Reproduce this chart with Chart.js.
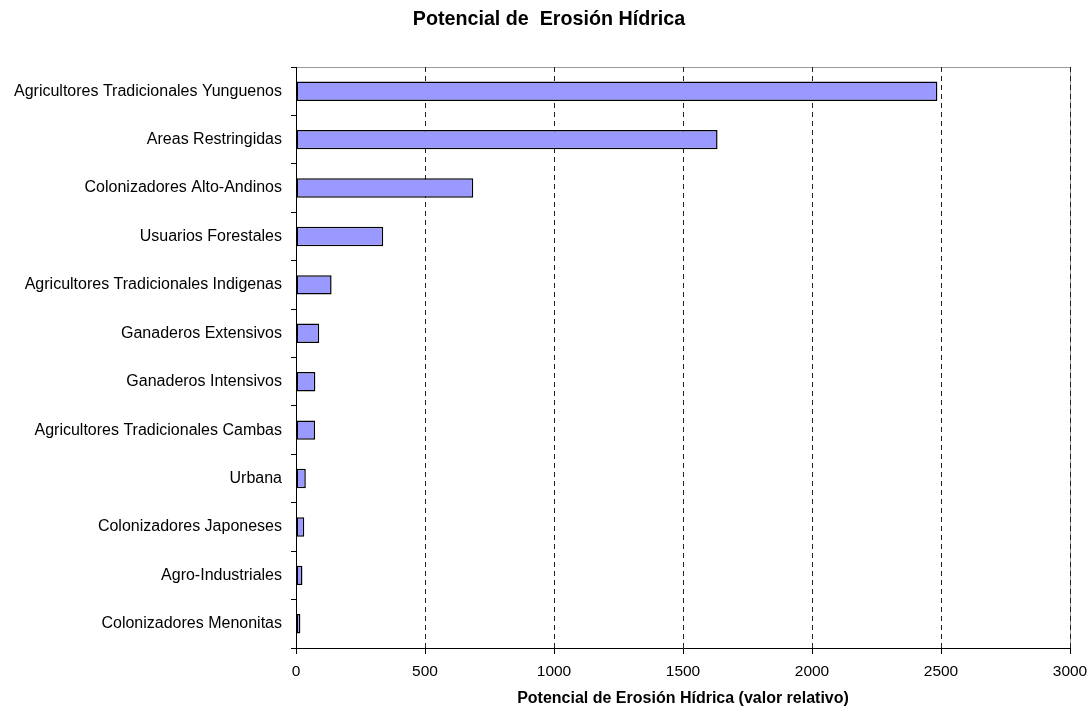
<!DOCTYPE html>
<html lang="es">
<head>
<meta charset="utf-8">
<title>Potencial de Erosión Hídrica</title>
<script src="https://cdn.jsdelivr.net/npm/chart.js@4/dist/chart.umd.min.js"></script>
<style>
  html, body { margin: 0; padding: 0; background: #ffffff; }
  #wrap { width: 1091px; height: 709px; }
</style>
</head>
<body>
<div id="wrap"><canvas id="chart" width="1091" height="709"></canvas></div>
<script>
// Actores / usos del suelo
const categories = [
  'Agricultores Tradicionales Yunguenos',
  'Areas Restringidas',
  'Colonizadores Alto-Andinos',
  'Usuarios Forestales',
  'Agricultores Tradicionales Indigenas',
  'Ganaderos Extensivos',
  'Ganaderos Intensivos',
  'Agricultores Tradicionales Cambas',
  'Urbana',
  'Colonizadores Japoneses',
  'Agro-Industriales',
  'Colonizadores Menonitas'
];

// Potencial de erosión hídrica (valor relativo)
const erosionValues = [2486, 1634, 687, 338, 138, 90, 75, 74, 38, 32, 25, 17];

// Escala del eje horizontal
const xTicks = [0, 500, 1000, 1500, 2000, 2500, 3000];

const chartTitle = 'Potencial de  Erosión Hídrica';

const FONT = "'Liberation Sans', Arial, Helvetica, sans-serif";

// Fondo blanco, marco gris del área de trazado y título centrado sobre el gráfico
const framePlugin = {
  id: 'frame',
  beforeDraw(chart) {
    const { ctx, chartArea: a } = chart;
    ctx.save();
    ctx.fillStyle = '#ffffff';
    ctx.fillRect(0, 0, chart.width, chart.height);
    ctx.strokeStyle = '#9a9a9a';
    ctx.lineWidth = 1;
    ctx.beginPath();
    ctx.moveTo(a.left, Math.round(a.top) + 0.5);
    ctx.lineTo(Math.round(a.right) + 0.5, Math.round(a.top) + 0.5);
    ctx.lineTo(Math.round(a.right) + 0.5, a.bottom);
    ctx.stroke();

    ctx.fillStyle = '#000000';
    ctx.font = 'bold 19.7px ' + FONT;
    ctx.textAlign = 'center';
    ctx.textBaseline = 'middle';
    ctx.fillText(chartTitle, 549, 20);
    ctx.restore();
  }
};

new Chart(document.getElementById('chart'), {
  type: 'bar',
  data: {
    labels: categories,
    datasets: [{
      label: 'Potencial de Erosión Hídrica',
      data: erosionValues,
      backgroundColor: '#9999ff',
      borderColor: '#000000',
      borderWidth: 1.5,
      borderSkipped: false,
      barPercentage: 0.4,
      categoryPercentage: 1.0
    }]
  },
  options: {
    indexAxis: 'y',
    responsive: false,
    animation: false,
    devicePixelRatio: 1,
    layout: { padding: { left: 0, right: 21, top: 67, bottom: 0 } },
    plugins: {
      legend: { display: false },
      tooltip: { enabled: false },
      title: { display: false }
    },
    scales: {
      x: {
        type: 'linear',
        min: xTicks[0],
        max: xTicks[xTicks.length - 1],
        afterBuildTicks(scale) {
          scale.ticks = xTicks.map(v => ({ value: v }));
        },
        afterFit(scale) {
          scale.height = 61;
          scale.paddingRight = 0;
          scale.paddingLeft = 0;
        },
        grid: {
          color: '#222222',
          lineWidth: 1,
          drawTicks: true,
          tickLength: 6,
          tickColor: '#000000',
          tickBorderDash: []
        },
        border: { display: true, color: '#000000', width: 1, dash: [5, 4] },
        ticks: {
          color: '#000000',
          padding: 8,
          font: { family: FONT, size: 15.5 },
          callback: (v) => String(v)
        },
        title: {
          display: true,
          text: 'Potencial de Erosión Hídrica (valor relativo)',
          color: '#000000',
          font: { family: FONT, size: 16, weight: 'bold' },
          padding: { top: 2, bottom: 1 }
        }
      },
      y: {
        type: 'category',
        afterFit(scale) { scale.width = 296; },
        grid: {
          display: true,
          offset: true,
          drawOnChartArea: false,
          drawTicks: true,
          tickLength: 5,
          color: '#000000',
          tickColor: '#000000'
        },
        border: { display: true, color: '#000000', width: 1 },
        ticks: {
          color: '#000000',
          padding: 9,
          font: { family: FONT, size: 16 }
        }
      }
    }
  },
  plugins: [framePlugin]
});
</script>
</body>
</html>
